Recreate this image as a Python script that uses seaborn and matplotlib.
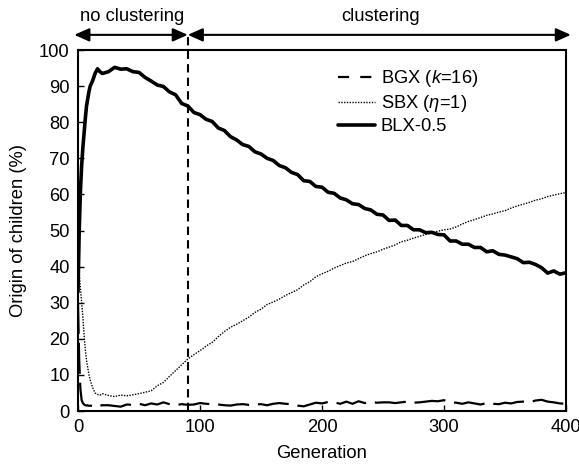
import matplotlib
matplotlib.use("Agg")
import matplotlib.pyplot as plt
import seaborn as sns
import pandas as pd
from matplotlib.lines import Line2D

# generations (dense at the start)
generations = [0, 1, 2, 3, 4, 5, 6, 7, 8, 9, 10, 12, 14, 16, 18, 20,
               25, 30, 35, 40, 45, 50, 55, 60, 65, 70, 75, 80, 85, 90, 95, 100,
               105, 110, 115, 120, 125, 130, 135, 140, 145, 150, 155, 160, 165, 170, 175, 180,
               185, 190, 195, 200, 205, 210, 215, 220, 225, 230, 235, 240, 245, 250, 255, 260,
               265, 270, 275, 280, 285, 290, 295, 300, 305, 310, 315, 320, 325, 330, 335, 340,
               345, 350, 355, 360, 365, 370, 375, 380, 385, 390, 395, 400]

bgx = [30, 14, 6, 3, 2.2, 1.8, 1.6, 1.5, 1.6, 1.4, 1.5, 1.4, 1.3, 1.7, 1.5, 1.6,
       1.6, 1.4, 1.2, 1.8, 1.7, 2.0, 1.6, 2.1, 1.8, 2.4, 1.9, 1.6, 1.9, 1.7, 1.8, 2.2,
       2.0, 1.9, 1.8, 1.6, 1.5, 1.8, 1.9, 1.7, 1.8, 1.9, 1.6, 2.0, 2.2, 2.0, 1.9, 1.5,
       1.3, 1.8, 2.3, 2.1, 2.5, 2.4, 2.0, 2.6, 2.0, 2.7, 2.2, 2.5, 2.3, 2.4, 2.4, 2.2,
       2.4, 2.6, 2.3, 2.4, 2.6, 2.8, 2.7, 3.0, 2.4, 2.3, 2.0, 2.4, 2.1, 1.8, 2.2, 2.0,
       1.9, 2.3, 2.1, 2.5, 2.6, 2.4, 2.9, 3.1, 2.6, 2.4, 2.1, 2.0]

sbx = [40, 38, 34, 30, 26, 21, 17, 14, 12, 10, 8.6, 6.5, 5.0, 4.6, 4.4, 4.8,
       4.3, 4.0, 4.4, 4.2, 4.5, 4.8, 5.2, 5.6, 7.0, 7.9, 9.6, 11.2, 12.8, 14.4, 15.6, 16.7,
       18.0, 19.0, 20.6, 22.0, 23.2, 24.0, 25.0, 26.0, 27.3, 28.2, 29.5, 30.2, 31.0, 32.0, 32.8, 33.6,
       34.9, 35.8, 37.2, 38.0, 38.7, 39.6, 40.3, 41.0, 41.4, 42.2, 43.0, 43.6, 44.1, 44.8, 45.4, 46.0,
       46.9, 47.3, 47.9, 48.4, 48.9, 49.3, 49.8, 50.2, 50.4, 51.0, 51.8, 52.5, 53.0, 53.6, 54.2, 54.6,
       55.1, 55.5, 56.2, 56.8, 57.3, 57.8, 58.4, 58.8, 59.4, 59.8, 60.2, 60.5]

blx = [33, 50, 61, 68, 73, 77, 81, 84.5, 86.5, 88.5, 90, 91.5, 93.5, 94.8, 94.0, 93.5,
       94.0, 95.2, 94.7, 94.8, 94.0, 93.8, 92.4, 91.4, 90.3, 89.9, 88.4, 87.6, 85.2, 84.5, 82.7, 82.1,
       80.8, 80.2, 78.4, 77.7, 76.0, 75.1, 73.8, 73.3, 71.8, 71.2, 70.0, 69.4, 68.0, 67.4, 66.1, 65.5,
       63.8, 63.6, 62.2, 62.0, 60.6, 60.3, 59.0, 58.5, 57.4, 57.2, 56.1, 55.7, 54.5, 54.3, 52.8, 52.9,
       51.4, 51.4, 50.2, 50.2, 49.4, 49.5, 48.9, 48.8, 47.1, 47.1, 46.2, 46.2, 45.3, 45.3, 44.1, 44.4,
       43.4, 43.2, 42.7, 42.2, 41.1, 41.2, 40.6, 39.7, 38.2, 38.8, 37.9, 38.3]

labels = ["BGX ($k$=16)", "SBX ($\\eta$=1)", "BLX-0.5"]
cluster_start = 90
phase_labels = ["no clustering", "clustering"]

sns.set_style("ticks")
plt.rcParams["font.family"] = ["Liberation Sans", "DejaVu Sans"]
plt.rcParams["mathtext.fontset"] = "custom"
plt.rcParams["mathtext.it"] = "Liberation Sans:italic"
plt.rcParams["mathtext.rm"] = "Liberation Sans"
for k in ["text.color", "axes.labelcolor", "xtick.color", "ytick.color", "axes.edgecolor"]:
    plt.rcParams[k] = "black"
fs = 13.2

df = pd.DataFrame({"gen": generations, "bgx": bgx, "sbx": sbx, "blx": blx})

fig = plt.figure(figsize=(5.79, 4.67), dpi=100)
ax = fig.add_axes([0.1347, 0.1199, 0.8428, 0.773])

sns.lineplot(data=df, x="gen", y="bgx", ax=ax, color="black", lw=1.6,
             linestyle=(0, (14, 4)))
sns.lineplot(data=df, x="gen", y="sbx", ax=ax, color="black", lw=1.0,
             linestyle=(0, (1, 1)))
sns.lineplot(data=df, x="gen", y="blx", ax=ax, color="black", lw=2.6)

ax.set_xlim(0, 400)
ax.set_ylim(0, 100)
ax.set_xticks([0, 100, 200, 300, 400])
ax.set_yticks(range(0, 101, 10))
ax.tick_params(direction="in", length=4, width=1, labelsize=fs, pad=6)
for s in ax.spines.values():
    s.set_linewidth(1.5)
    s.set_visible(True)
ax.set_xlabel("Generation", fontsize=fs, labelpad=6)
ax.set_ylabel("Origin of children (%)", fontsize=fs, labelpad=9)

# phase divider and arrows above the axes
ax.axvline(cluster_start, ymin=0, ymax=1.042, color="black", lw=1.5,
           linestyle=(0, (4, 2.5)), clip_on=False)
arr = dict(arrowstyle="<|-|>,head_length=0.9,head_width=0.4", color="black", lw=1.5,
           shrinkA=0, shrinkB=0)
ax.annotate("", xy=(-3, 1.042), xytext=(cluster_start, 1.042),
            xycoords=("data", "axes fraction"), arrowprops=arr, annotation_clip=False)
ax.annotate("", xy=(cluster_start, 1.042), xytext=(404, 1.042),
            xycoords=("data", "axes fraction"), arrowprops=arr, annotation_clip=False)
ax.text(44, 1.094, phase_labels[0], transform=ax.get_xaxis_transform(),
        ha="center", va="center", fontsize=fs)
ax.text(248, 1.094, phase_labels[1], transform=ax.get_xaxis_transform(),
        ha="center", va="center", fontsize=fs)

handles = [Line2D([], [], color="black", lw=1.6, linestyle=(0, (5, 5))),
           Line2D([], [], color="black", lw=1.0, linestyle=(0, (1, 1))),
           Line2D([], [], color="black", lw=2.6)]
ax.legend(handles, labels, loc="upper left", bbox_to_anchor=(0.5, 0.995),
          frameon=False, fontsize=fs, handlelength=2.0, handletextpad=0.3,
          labelspacing=0.22)

fig.savefig("out.png", dpi=100)
